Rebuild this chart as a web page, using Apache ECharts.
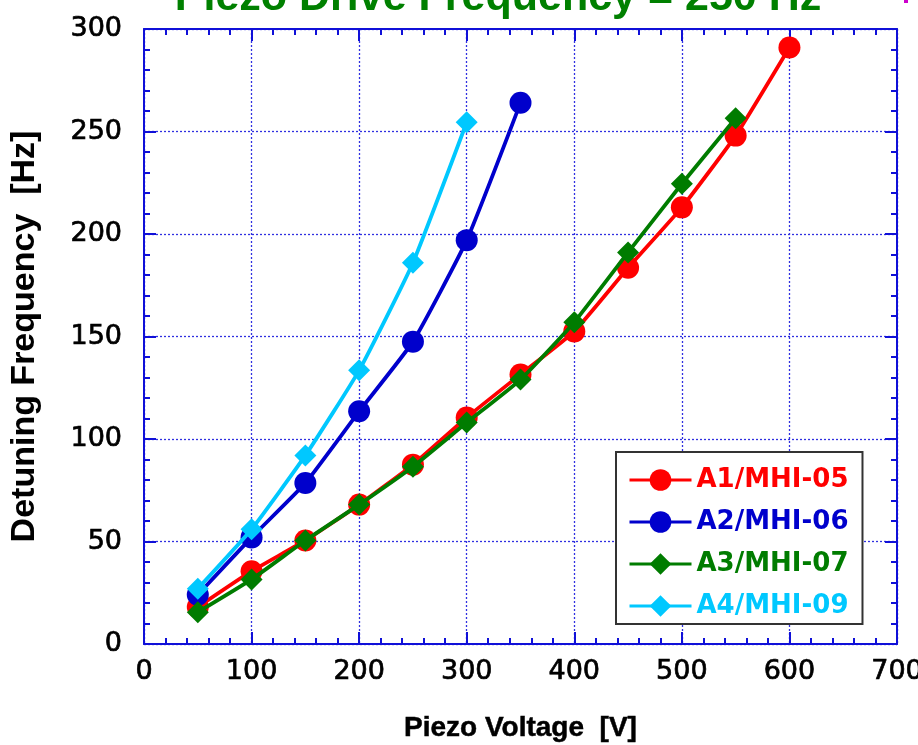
<!DOCTYPE html>
<html>
<head>
<meta charset="utf-8">
<script src="https://cdn.jsdelivr.net/npm/echarts@6/dist/echarts.min.js"></script>
<style>
html,body{margin:0;padding:0;background:#fff;}
#chart{width:918px;height:745px;}
</style>
</head>
<body>
<div id="chart"></div>
<script>
const voltages = [50, 100, 150, 200, 250, 300, 350, 400, 450, 500, 550, 600];
const seriesNames = ['A1/MHI-05', 'A2/MHI-06', 'A3/MHI-07', 'A4/MHI-09'];
const a1 = [18, 35.5, 50.5, 68, 87.5, 110.5, 131.5, 152.5, 183.5, 213, 248, 291];
const a2 = [24, 52, 78.5, 113.5, 147.5, 197, 264];
const a3 = [15.5, 31.5, 50.5, 68, 86.5, 108, 129, 157, 191, 224.5, 256.5];
const a4 = [27, 56, 92, 133.5, 186, 254.5];
const xTicks = [0, 100, 200, 300, 400, 500, 600, 700];
const yTicks = [0, 50, 100, 150, 200, 250, 300];

const colors = ['#ff0000', '#0000cc', '#007c00', '#00c8ff'];
const symbols = ['circle', 'circle', 'diamond', 'diamond'];
const symbolSizes = [22, 22, 22, 22];
const values = [a1, a2, a3, a4];

const axisBlue = '#1010d8';
const font = '"Liberation Sans", Arial, sans-serif';
const wideFont = '"DejaVu Sans", sans-serif';

function axisCommon(showLabel) {
  return {
    type: 'value',
    axisLine: { show: true, onZero: false, lineStyle: { color: axisBlue, width: 2 } },
    axisTick: { show: true, inside: true, length: 12, lineStyle: { color: axisBlue, width: 2 } },
    minorTick: { show: true, splitNumber: 5, length: 6, lineStyle: { color: axisBlue, width: 2 } },
    splitLine: { show: showLabel, lineStyle: { color: '#3030e0', type: [2, 2], width: 1.3 } },
    minorSplitLine: { show: false }
  };
}

const chart = echarts.init(document.getElementById('chart'));
const option = {
  backgroundColor: '#ffffff',
  animation: false,
  title: {
    text: 'Piezo Drive Frequency = 250 Hz',
    left: 493,
    textAlign: 'center',
    top: -28,
    textStyle: { color: '#008000', fontSize: 43, fontWeight: 'bold', fontFamily: font }
  },
  graphic: [
    { type: 'rect', shape: { x: 904, y: 0, width: 4, height: 3 }, style: { fill: '#cc00cc' } }
  ],
  grid: { left: 144, right: 21, top: 29, bottom: 101, containLabel: false, outerBoundsMode: 'none' },
  legend: {
    orient: 'vertical',
    left: 616,
    top: 452,
    backgroundColor: '#ffffff',
    borderColor: '#333333',
    borderWidth: 2,
    borderRadius: 0,
    padding: [15, 14, 5, 12],
    itemWidth: 62,
    itemHeight: 27,
    itemGap: 16,
    lineStyle: { width: 3 },
    data: seriesNames.map((n, i) => ({
      name: n,
      textStyle: { color: colors[i], fontSize: 26, fontWeight: 'bold', fontFamily: wideFont }
    }))
  },
  xAxis: [
    Object.assign(axisCommon(true), {
      position: 'bottom', min: 0, max: 700, interval: 100,
      axisLabel: { show: true, color: '#000', fontSize: 27, fontFamily: wideFont, margin: 14,
        textBorderColor: '#000', textBorderWidth: 0.7,
        formatter: v => xTicks.includes(v) ? String(v) : '' },
      name: 'Piezo Voltage  [V]', nameLocation: 'middle', nameGap: 70,
      nameTextStyle: { color: '#000', fontSize: 28, fontWeight: 'bold', fontFamily: font,
        textBorderColor: '#000', textBorderWidth: 0.5 }
    }),
    Object.assign(axisCommon(false), {
      position: 'top', min: 0, max: 700, interval: 100, axisLabel: { show: false }
    })
  ],
  yAxis: [
    Object.assign(axisCommon(true), {
      position: 'left', min: 0, max: 300, interval: 50,
      axisLabel: { show: true, color: '#000', fontSize: 27, fontFamily: wideFont, margin: 22,
        textBorderColor: '#000', textBorderWidth: 0.7,
        formatter: v => yTicks.includes(v) ? String(v) : '' },
      name: 'Detuning Frequency  [Hz]', nameLocation: 'middle', nameGap: 102,
      nameTextStyle: { color: '#000', fontSize: 34, fontWeight: 'bold', fontFamily: font }
    }),
    Object.assign(axisCommon(false), {
      position: 'right', min: 0, max: 300, interval: 50, axisLabel: { show: false }
    })
  ],
  series: seriesNames.map((n, i) => ({
    name: n,
    type: 'line',
    xAxisIndex: 0,
    yAxisIndex: 0,
    data: values[i].map((v, k) => [voltages[k], v]),
    symbol: symbols[i],
    symbolSize: symbolSizes[i],
    smooth: 0.15,
    lineStyle: { color: colors[i], width: 3.8 },
    itemStyle: { color: colors[i] },
    z: 3 + i
  }))
};
chart.setOption(option);
</script>
</body>
</html>
